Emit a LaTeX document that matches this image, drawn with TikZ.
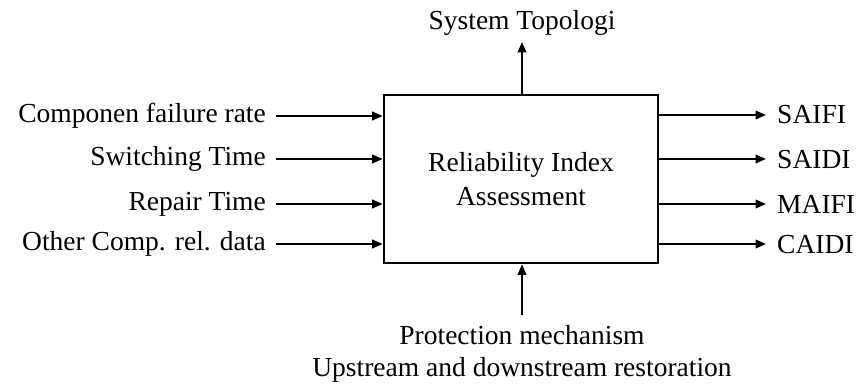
\documentclass[tikz,border=0pt]{standalone}
\usepackage{fontspec}
\setmainfont{Liberation Serif}
\usetikzlibrary{arrows.meta}
\begin{document}
\begin{tikzpicture}[x=1pt,y=-1pt,
  lbl/.style={inner sep=0pt, font=\fontsize{27.5}{32}\selectfont},
  flow/.style={line width=2.2pt, -{Triangle[length=10.5pt,width=8.5pt]}},
  block/.style={draw, line width=2.6pt, minimum width=274pt, minimum height=168pt,
    inner sep=0pt, align=center, font=\fontsize{27.5}{34}\selectfont}]
  \useasboundingbox (0,0) rectangle (856,385);

  % central block
  \node[block] (box) at (521,179) {Reliability Index\\Assessment};

  % inputs on the left (arrows at y = 116, 159, 204, 244)
  \node[lbl, anchor=base east] (i1) at (266,122) {Componen failure rate};
  \node[lbl, anchor=base east] (i2) at (266,165) {Switching Time};
  \node[lbl, anchor=base east] (i3) at (266,210) {Repair Time};
  \node[lbl, anchor=base east] (i4) at (266,250) {Other Comp. rel. data};
  \coordinate (a1) at (276,116);
  \coordinate (a2) at (276,159);
  \coordinate (a3) at (276,204);
  \coordinate (a4) at (276,244);
  \foreach \n in {1,2,3,4}
    \draw[flow] (a\n) -- (a\n -| box.west);

  % outputs on the right
  \node[lbl, anchor=base west] (o1) at (777,124) {SAIFI};
  \node[lbl, anchor=base west] (o2) at (777,168) {SAIDI};
  \node[lbl, anchor=base west] (o3) at (777,213) {MAIFI};
  \node[lbl, anchor=base west] (o4) at (777,253) {CAIDI};
  \coordinate (b1) at (766,115);
  \coordinate (b2) at (766,159);
  \coordinate (b3) at (766,204);
  \coordinate (b4) at (766,244);
  \foreach \n in {1,2,3,4}
    \draw[flow] (b\n -| box.east) -- (b\n);

  % topology output on top
  \node[lbl, anchor=base] (top) at (522,30) {System Topologi};
  \coordinate (tt) at (522,42);
  \draw[flow] (box.north -| tt) -- (tt);

  % protection input at the bottom (base anchor sits on the last line)
  \node[lbl, anchor=base, align=center] (bot) at (522,376)
    {Protection mechanism\\Upstream and downstream restoration};
  \coordinate (bb) at (522,315);
  \draw[flow] (bb) -- (box.south -| bb);
\end{tikzpicture}
\end{document}
